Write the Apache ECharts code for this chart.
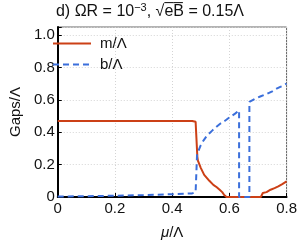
<!DOCTYPE html>
<html><head><meta charset="utf-8">
<script src="https://cdn.jsdelivr.net/npm/echarts@6/dist/echarts.min.js"></script>
<style>html,body{margin:0;padding:0;background:#fff}#c{width:300px;height:245px}</style>
</head><body><div id="c"></div>
<script>
// m/Λ (solid red)
const mX = [0, 0.47, 0.482, 0.488, 0.488, 0.49, 0.50, 0.512, 0.53, 0.544, 0.556, 0.566, 0.575, 0.582, 0.59, 0.71, 0.717, 0.73, 0.744, 0.758, 0.771, 0.785, 0.8];
const mY = [0.47, 0.47, 0.465, 0.455, 0.25, 0.225, 0.18, 0.137, 0.10, 0.075, 0.06, 0.045, 0.03, 0.012, 0, 0, 0.025, 0.03, 0.045, 0.055, 0.066, 0.08, 0.096];
// b/Λ (dashed blue)
const bX = [0, 0.1, 0.2, 0.3, 0.4, 0.47, 0.482, 0.487, 0.487, 0.493, 0.50, 0.51, 0.522, 0.54, 0.555, 0.57, 0.587, 0.603, 0.62, 0.634, 0.634, 0.67, 0.67, 0.69, 0.71, 0.733, 0.75, 0.765, 0.78, 0.8];
const bY = [0.003, 0.005, 0.008, 0.012, 0.017, 0.022, 0.03, 0.04, 0.26, 0.29, 0.32, 0.35, 0.38, 0.41, 0.434, 0.455, 0.474, 0.495, 0.515, 0.535, 0, 0, 0.587, 0.607, 0.622, 0.638, 0.652, 0.669, 0.682, 0.70];
const seriesNames = ['m/Λ', 'b/Λ'];
const xTicks = [0, 0.2, 0.4, 0.6, 0.8];
const yTicks = [0, 0.2, 0.4, 0.6, 0.8, 1.0];

const FONT = 'Liberation Sans, Arial, sans-serif';
const fmt = v => {
  const r = Math.round(v * 10) / 10;
  if (Math.abs(v - r) > 1e-6 || Math.round(r * 10) % 2 !== 0) return '';
  return r === 0 ? '0' : r.toFixed(1);
};
const chart = echarts.init(document.getElementById('c'), null, {renderer: 'canvas'});
chart.setOption({
  animation: false,
  backgroundColor: '#fff',
  title: {
    left: 'center', top: 0, padding: [2, 0, 0, 32],
    text: '{a|d) ΩR = 10}{s|−3}{a|, √}{a|e\u0305B\u0305}{a| = 0.15Λ}',
    textStyle: {
      fontWeight: 'normal',
      rich: {
        a: {fontFamily: FONT, fontSize: 16, fontWeight: 'normal', color: '#111'},
        s: {fontFamily: FONT, fontSize: 11, fontWeight: 'normal', color: '#111', verticalAlign: 'top', padding: [0, 0, 8, 0]}
      }
    }
  },
  legend: {
    orient: 'vertical', left: 47, top: 31, itemWidth: 38, itemHeight: 14, itemGap: 6,
    itemStyle: {opacity: 0},
    textStyle: {fontFamily: FONT, fontSize: 15, color: '#111', padding: [0, 0, 0, 4]},
    data: seriesNames
  },
  grid: {left: 42, right: 11, top: 27, bottom: 46, show: true, borderColor: '#666', borderWidth: 1},
  xAxis: {
    type: 'value', min: 0, max: 0.8, interval: 0.2,
    name: '{i|μ}{n|/Λ}', nameLocation: 'middle', nameGap: 28,
    nameTextStyle: {rich: {i: {fontFamily: FONT, fontSize: 15, fontStyle: 'italic', color: '#111'}, n: {fontFamily: FONT, fontSize: 15, color: '#111'}}},
    axisLine: {show: true, lineStyle: {color: '#000', width: 2}},
    axisTick: {show: true, inside: true, length: 4, lineStyle: {color: '#000'}},
    axisLabel: {fontFamily: FONT, fontSize: 15, color: '#111', margin: 4, formatter: fmt},
    splitLine: {show: true, lineStyle: {color: '#d4d4d4', type: [1, 2], width: 1}}
  },
  yAxis: {
    type: 'value', min: 0, max: 1.05, interval: 0.2,
    name: 'Gaps/Λ', nameLocation: 'middle', nameGap: 27, nameRotate: 90,
    nameTextStyle: {fontFamily: FONT, fontSize: 15, color: '#111'},
    axisLine: {show: true, lineStyle: {color: '#000', width: 2}},
    axisTick: {show: true, inside: true, length: 4, lineStyle: {color: '#000'}},
    axisLabel: {fontFamily: FONT, fontSize: 15, color: '#111', margin: 3, formatter: fmt},
    splitLine: {show: true, lineStyle: {color: '#d4d4d4', type: [1, 2], width: 1}}
  },
  series: [
    {name: seriesNames[0], type: 'line', showSymbol: false, symbol: 'none', z: 3,
     lineStyle: {color: '#cc4016', width: 2}, itemStyle: {color: '#cc4016'},
     data: mX.map((x, i) => [x, mY[i]])},
    {name: seriesNames[1], type: 'line', showSymbol: false, symbol: 'none', z: 4,
     lineStyle: {color: '#3b6fdb', width: 2, type: [6, 4]}, itemStyle: {color: '#3b6fdb'},
     data: bX.map((x, i) => [x, bY[i]])}
  ]
});
</script></body></html>
